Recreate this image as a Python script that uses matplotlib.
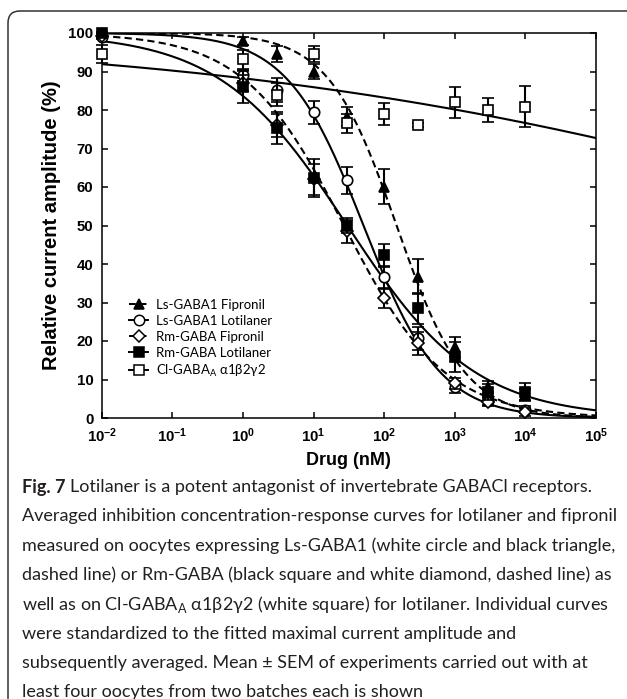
import numpy as np
import matplotlib
matplotlib.use('Agg')
import matplotlib.pyplot as plt
from matplotlib.lines import Line2D
from matplotlib.patches import FancyBboxPatch
from matplotlib.transforms import IdentityTransform
from matplotlib.ticker import NullLocator

plt.rcParams['font.family'] = ['Liberation Sans', 'DejaVu Sans']

# drug concentrations (nM)
conc = [0.01, 1, 3, 10, 30, 100, 300, 1000, 3000, 10000]

# relative current amplitude (%), mean and SEM
ls_fip = [100, 98, 94.5, 90, 78.3, 60.1, 36.7, 18.5, 8, 6]
ls_fip_err = [0, 1, 2, 2, 2.5, 4.5, 4.5, 2.6, 1.5, 1.5]
ls_lot = [99, 89, 85.2, 79.4, 61.8, 36.5, 20.7, 8.1, 4.5, 2.2]
ls_lot_err = [0.5, 1.5, 3, 3, 3.5, 3, 3, 1.5, 1, 1]
rm_fip = [99.3, 87, 76, 62, 48.5, 31.1, 19.4, 9, 4.2, 1.6]
rm_fip_err = [0.5, 2, 3, 4, 3, 2.6, 3, 1.5, 1, 1]
rm_lot = [100, 86, 75.3, 62.4, 50, 42.3, 28.5, 15.9, 6.8, 6.8]
rm_lot_err = [0.3, 4.2, 4.2, 5, 2, 3, 4, 3.9, 2, 2.2]
cl_gaba = [94.5, 93.2, 84, 94.5, 76.5, 78.9, 76.1, 82, 80, 80.9]
cl_gaba_err = [2.3, 2.5, 3, 2, 2.5, 2.8, 0.5, 4, 3, 5.4]

# fitted Hill curves (IC50 in nM, Hill slope)
ic50 = [150, 51, 27, 30, 10 ** 9.73]
hill = [0.9, 0.8, 0.61, 0.48, 0.09]

labels = ['Ls-GABA1 Fipronil', 'Ls-GABA1 Lotilaner', 'Rm-GABA Fipronil',
          'Rm-GABA Lotilaner', r'Cl-GABA$_\mathregular{A}$ α1β2γ2']
markers = ['^', 'o', 'D', 's', 's']
faces = ['black', 'white', 'white', 'black', 'white']
sizes = [7.5, 7.5, 6.3, 7.2, 7.5]
styles = [(0, (3.5, 2)), '-', (0, (3.5, 2)), '-', '-']

means = [ls_fip, ls_lot, rm_fip, rm_lot, cl_gaba]
errs = [ls_fip_err, ls_lot_err, rm_fip_err, rm_lot_err, cl_gaba_err]

W, H = 627, 699
fig = plt.figure(figsize=(W / 100, H / 100), dpi=100)

# rounded frame round the whole figure
frame = FancyBboxPatch((8, -40), 680, H - 11 + 40, boxstyle='round,pad=0,rounding_size=12',
                       transform=IdentityTransform(), fill=False, lw=1.1, ec='#333333')
fig.patches.append(frame)

ax = fig.add_axes([101.7 / W, 1 - 418 / H, (596 - 101.7) / W, 385 / H])

xs = np.logspace(-2, 5, 400)
for i in range(5):
    curve = 100 / (1 + (xs / ic50[i]) ** hill[i])
    ax.plot(xs, curve, color='black', lw=1.5, ls=styles[i], zorder=2)

for i in range(5):
    ax.errorbar(conc, means[i], yerr=errs[i], fmt=markers[i], ms=sizes[i],
                mfc=faces[i], mec='black', mew=1.2, ecolor='black',
                elinewidth=1.5, capsize=4.2, capthick=1.5, clip_on=False, zorder=3 + i)

ax.set_xscale('log')
ax.set_xlim(0.01, 1e5)
ax.set_ylim(0, 100)
ax.set_xticks([10.0 ** k for k in range(-2, 6)])
ax.set_xticklabels([r'$\mathregular{10^{%d}}$' % k for k in range(-2, 6)])
ax.xaxis.set_minor_locator(NullLocator())
ax.set_yticks(range(0, 101, 10))
ax.tick_params(direction='in', top=True, right=True, length=4, width=1.1,
               labelsize=10.8, pad=6)
for lab in ax.get_xticklabels() + ax.get_yticklabels():
    lab.set_fontweight('bold')
for s in ax.spines.values():
    s.set_linewidth(1.1)

ax.set_xlabel('Drug (nM)', fontsize=13, fontweight='bold', labelpad=5)
ax.set_ylabel('Relative current amplitude (%)', fontsize=14.5, fontweight='bold', labelpad=5)

handles = [Line2D([], [], color='black', lw=1.4, ls=styles[i], marker=markers[i],
                  ms=sizes[i], mfc=faces[i], mec='black', mew=1.1) for i in range(5)]
ax.legend(handles, labels, loc='upper left', bbox_to_anchor=(129 / W, 1 - 299 / H),
          bbox_transform=fig.transFigure, frameon=False, borderpad=0, borderaxespad=0,
          handlelength=1.45, handletextpad=0.6, labelspacing=0.3,
          prop={'family': ['Lato', 'DejaVu Sans'], 'size': 9.5})

# caption
cap_font = ['Lato', 'DejaVu Sans']
cap_size = 13.0
lines = ['Averaged inhibition concentration-response curves for lotilaner and fipronil',
         'measured on oocytes expressing Ls-GABA1 (white circle and black triangle,',
         'dashed line) or Rm-GABA (black square and white diamond, dashed line) as',
         r'well as on Cl-GABA$_\mathregular{A}$ α1β2γ2 (white square) for lotilaner. Individual curves',
         'were standardized to the fitted maximal current amplitude and',
         'subsequently averaged. Mean ± SEM of experiments carried out with at',
         'least four oocytes from two batches each is shown']
x0 = 22 / W
y0 = 487
step = 29.3
r = fig.canvas.get_renderer()
t = fig.text(x0, 1 - y0 / H, 'Fig. 7', family=cap_font, weight='bold', size=cap_size,
             va='center', color='#231f20')
bb = t.get_window_extent(r)
fig.text(bb.x1 / W + 4 / W, 1 - y0 / H,
         'Lotilaner is a potent antagonist of invertebrate GABACl receptors.',
         family=cap_font, size=cap_size, va='center', color='#231f20')
for k, line in enumerate(lines):
    fig.text(x0, 1 - (y0 + step * (k + 1)) / H, line, family=cap_font,
             size=cap_size, va='center', color='#231f20')

fig.savefig('out.png', dpi=100)
